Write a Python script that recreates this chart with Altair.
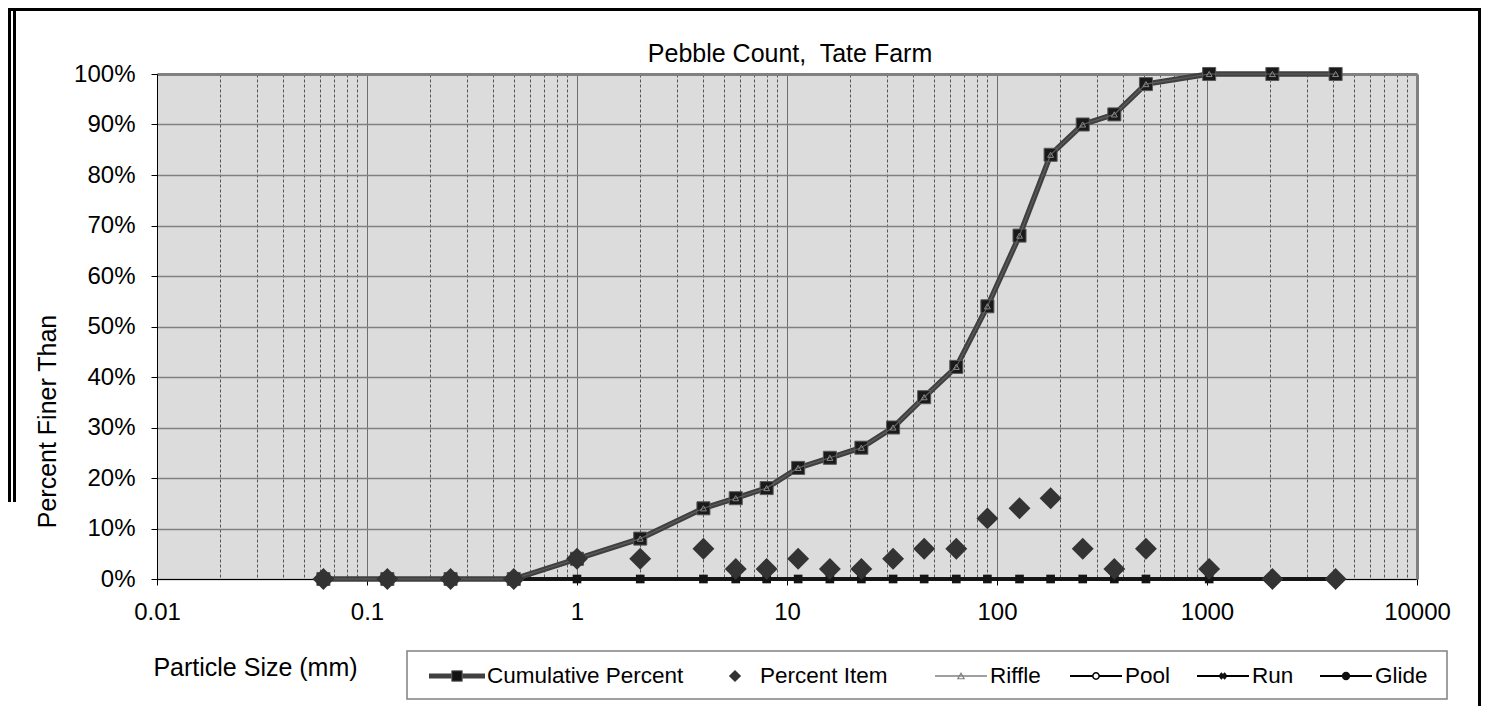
import altair as alt
import pandas as pd

# ---------------- data ----------------
particle_size_mm = [0.062, 0.125, 0.25, 0.5, 1, 2, 4, 5.7, 8, 11.3, 16, 22.6,
                    32, 45, 64, 90, 128, 180, 256, 362, 512, 1024, 2048, 4096]
cumulative_percent = [0, 0, 0, 0, 4, 8, 14, 16, 18, 22, 24, 26,
                      30, 36, 42, 54, 68, 84, 90, 92, 98, 100, 100, 100]
percent_item = [0, 0, 0, 0, 4, 4, 6, 2, 2, 4, 2, 2,
                4, 6, 6, 12, 14, 16, 6, 2, 6, 2, 0, 0]
riffle_percent = [0, 0, 0, 0, 4, 8, 14, 16, 18, 22, 24, 26,
                  30, 36, 42, 54, 68, 84, 90, 92, 98, 100, 100, 100]
pool_percent = [0, 0, 0, 0, 0, 0, 0, 0, 0, 0, 0, 0,
                0, 0, 0, 0, 0, 0, 0, 0, 0, 0, 0, 0]
run_percent = [0, 0, 0, 0, 0, 0, 0, 0, 0, 0, 0, 0,
               0, 0, 0, 0, 0, 0, 0, 0, 0, 0, 0, 0]
glide_percent = [0, 0, 0, 0, 0, 0, 0, 0, 0, 0, 0, 0,
                 0, 0, 0, 0, 0, 0, 0, 0, 0, 0, 0, 0]

x_major_ticks = [0.01, 0.1, 1, 10, 100, 1000, 10000]
x_minor_multipliers = [2, 3, 4, 5, 6, 7, 8, 9]
y_ticks = [0, 10, 20, 30, 40, 50, 60, 70, 80, 90, 100]
legend_labels = ["Cumulative Percent", "Percent Item", "Riffle", "Pool", "Run", "Glide"]

chart_title = ["Pebble Count,\u00a0 Tate Farm"]
x_title = "Particle Size (mm)"
y_title = "Percent Finer Than"

# ---------------- layout / style ----------------
FONT = "Liberation Sans"
W, H = 1260, 505

df = pd.DataFrame({
    "mm": particle_size_mm,
    "cum": cumulative_percent,
    "item": percent_item,
    "riffle": riffle_percent,
    "pool": pool_percent,
    "run": run_percent,
    "glide": glide_percent,
})

x_tick_values = x_major_ticks + [m * d for d in x_major_ticks[:-1] for m in x_minor_multipliers]
IS_MAJOR = "indexof([" + ", ".join(repr(v) for v in x_major_ticks) + "], datum.value) >= 0"

xscale = alt.Scale(type="log", domain=[0.01, 10000], nice=False)
yscale = alt.Scale(domain=[0, 100], nice=False, zero=False)

x_axis = alt.Axis(
    values=x_tick_values, format=".6~g",
    labelExpr=IS_MAJOR + " ? datum.label : ''",
    labelFont=FONT, labelFontSize=24, labelColor="black", labelPadding=15,
    labelFlush=False, labelOverlap=False, labelBound=False,
    tickSize=6, tickColor="black", tickWidth=1,
    tickOpacity={"condition": {"test": IS_MAJOR, "value": 1}, "value": 0},
    domainColor="black", domainWidth=1,
    grid=True,
    gridColor={"condition": {"test": IS_MAJOR, "value": "#6e6e6e"}, "value": "#555555"},
    gridDash={"condition": {"test": IS_MAJOR, "value": []}, "value": [3, 2]},
    gridWidth=1,
    titleFont=FONT, titleFontSize=25, titleFontWeight="normal", titleColor="black",
    titleX=98, titleY=96, titleAlign="center", titleBaseline="alphabetic",
)
y_axis = alt.Axis(
    values=y_ticks, labelExpr="datum.value + '%'",
    labelFont=FONT, labelFontSize=24, labelColor="black", labelPadding=16,
    labelOverlap=False, labelFlush=False,
    tickSize=6, tickColor="black", tickWidth=1,
    domainColor="black", domainWidth=1,
    grid=True, gridColor="#808080", gridWidth=1.5,
    titleFont=FONT, titleFontSize=25, titleFontWeight="normal", titleColor="black",
    titleX=-102, titleY=347, titleAlign="center", titleBaseline="alphabetic",
    titleAngle=270,
)

base = alt.Chart(df)


def xe(axis=None):
    if axis is None:
        return alt.X("mm:Q", scale=xscale, axis=None)
    return alt.X("mm:Q", scale=xscale, axis=axis, title=x_title)


def ye(field, axis=None):
    if axis is None:
        return alt.Y(field + ":Q", scale=yscale, axis=None)
    return alt.Y(field + ":Q", scale=yscale, axis=axis, title=y_title)


layers = []

# main axes carrier (grid, ticks, labels, titles)
layers.append(base.mark_point(opacity=0).encode(x=xe(x_axis), y=ye("cum", y_axis)))

# top / right gray plot border as secondary axes
border_x = alt.Axis(orient="top", domainColor="#808080", domainWidth=3,
                    labels=False, ticks=False, grid=False)
border_y = alt.Axis(orient="right", domainColor="#808080", domainWidth=3,
                    labels=False, ticks=False, grid=False)
layers.append(base.mark_point(opacity=0).encode(
    x=alt.X("mm:Q", scale=xscale, axis=border_x, title=""),
    y=alt.Y("cum:Q", scale=yscale, axis=border_y, title="")))

# zero series: Pool, Run, Glide
for f in ["pool", "run", "glide"]:
    layers.append(base.mark_line(color="#141414", strokeWidth=3.5).encode(x=xe(), y=ye(f)))
layers.append(base.transform_filter("datum.mm <= 1100").mark_point(
    shape="square", size=75, filled=True, color="#141414", opacity=1).encode(x=xe(), y=ye("glide")))

# cumulative percent
layers.append(base.mark_line(color="#404040", strokeWidth=5.5).encode(x=xe(), y=ye("cum")))
layers.append(base.mark_point(shape="square", size=170, filled=True, fill="#1a1a1a",
                              stroke="#5a5a5a", strokeWidth=1, opacity=1).encode(x=xe(), y=ye("cum")))
# riffle
layers.append(base.mark_line(color="#5e5e5e", strokeWidth=1.2).encode(x=xe(), y=ye("riffle")))
layers.append(base.mark_point(shape="triangle-up", size=35, filled=False, stroke="#8a8a8a",
                              strokeWidth=1, opacity=1).encode(x=xe(), y=ye("riffle")))
# percent item
layers.append(base.mark_point(shape="diamond", size=480, filled=True, color="#333333",
                              opacity=1).encode(x=xe(), y=ye("item")))

# ---------------- chart title (plot-relative pixels) ----------------
title_df = pd.DataFrame({"label": chart_title})
layers.append(alt.Chart(title_df).mark_text(font=FONT, fontSize=25, color="black", align="center",
                                             baseline="alphabetic").encode(
    x=alt.value(W / 2 + 3), y=alt.value(-12), text="label:N"))

# ---------------- legend (manual, plot-relative pixels) ----------------
LEG_Y = 602
LEG_TEXT_Y = 609
legend_box = dict(x=250, x2=1290, y=577, y2=625)
legend_layout = {
    "Cumulative Percent": dict(line=(272, 328), marker=300, text=330),
    "Percent Item": dict(line=None, marker=578, text=603),
    "Riffle": dict(line=(778, 830), marker=804, text=833),
    "Pool": dict(line=(913, 965), marker=939, text=968),
    "Run": dict(line=(1040, 1092), marker=1066, text=1095),
    "Glide": dict(line=(1163, 1215), marker=1189, text=1218),
}
legend_line_style = {
    "Cumulative Percent": dict(color="#404040", strokeWidth=5),
    "Riffle": dict(color="#808080", strokeWidth=1.5),
    "Pool": dict(color="black", strokeWidth=2),
    "Run": dict(color="black", strokeWidth=2),
    "Glide": dict(color="black", strokeWidth=2),
}
legend_marker_style = {
    "Cumulative Percent": dict(shape="square", size=110, filled=True, fill="#111111", stroke="#666666", strokeWidth=1),
    "Percent Item": dict(shape="diamond", size=150, filled=True, color="#333333"),
    "Riffle": dict(shape="triangle-up", size=40, filled=False, stroke="#808080", strokeWidth=1.2),
    "Pool": dict(shape="circle", size=40, filled=True, fill="white", stroke="black", strokeWidth=1.5),
    "Run": dict(shape="cross", size=55, filled=True, color="#111111", angle=45),
    "Glide": dict(shape="circle", size=70, filled=True, color="#111111"),
}

box_df = pd.DataFrame({"label": ["legend"]})
layers.append(alt.Chart(box_df).mark_rect(fill="white", stroke="#808080", strokeWidth=1.5).encode(
    x=alt.value(legend_box["x"]), x2=alt.value(legend_box["x2"]),
    y=alt.value(legend_box["y"]), y2=alt.value(legend_box["y2"])))

for name in legend_labels:
    lay = legend_layout[name]
    ldf = pd.DataFrame({"label": [name]})
    if lay["line"] is not None:
        layers.append(alt.Chart(ldf).mark_rule(**legend_line_style[name]).encode(
            x=alt.value(lay["line"][0]), x2=alt.value(lay["line"][1]), y=alt.value(LEG_Y)))
    layers.append(alt.Chart(ldf).mark_point(opacity=1, **legend_marker_style[name]).encode(
        x=alt.value(lay["marker"]), y=alt.value(LEG_Y)))
    layers.append(alt.Chart(ldf).mark_text(font=FONT, fontSize=22.5, color="black", align="left",
                                           baseline="alphabetic").encode(
        x=alt.value(lay["text"]), y=alt.value(LEG_TEXT_Y), text="label:N"))

# ---------------- outer frame ----------------
frame_df = pd.DataFrame({"label": ["frame"]})
frame = [
    dict(x=-147.5, x2=-147.5, y=-66, y2=428, w=3),
    dict(x=-142.5, x2=-142.5, y=-66, y2=428, w=3),
    dict(x=-149, x2=1324, y=-64.5, y2=-64.5, w=3),
    dict(x=1322.5, x2=1322.5, y=-66, y2=632, w=3),
]
for fr in frame:
    layers.append(alt.Chart(frame_df).mark_rule(color="black", strokeWidth=fr["w"]).encode(
        x=alt.value(fr["x"]), x2=alt.value(fr["x2"]), y=alt.value(fr["y"]), y2=alt.value(fr["y2"])))

chart = alt.layer(*layers).resolve_axis(x="independent", y="independent").properties(
    width=W, height=H,
    padding={"left": 149, "top": 66, "right": 64, "bottom": 127},
    autosize=alt.AutoSizeParams(type="none"),
    background="white",
).configure_view(fill="#DCDCDC", stroke="transparent")

chart.save("out.html", embed_options={"renderer": "svg", "actions": False})
